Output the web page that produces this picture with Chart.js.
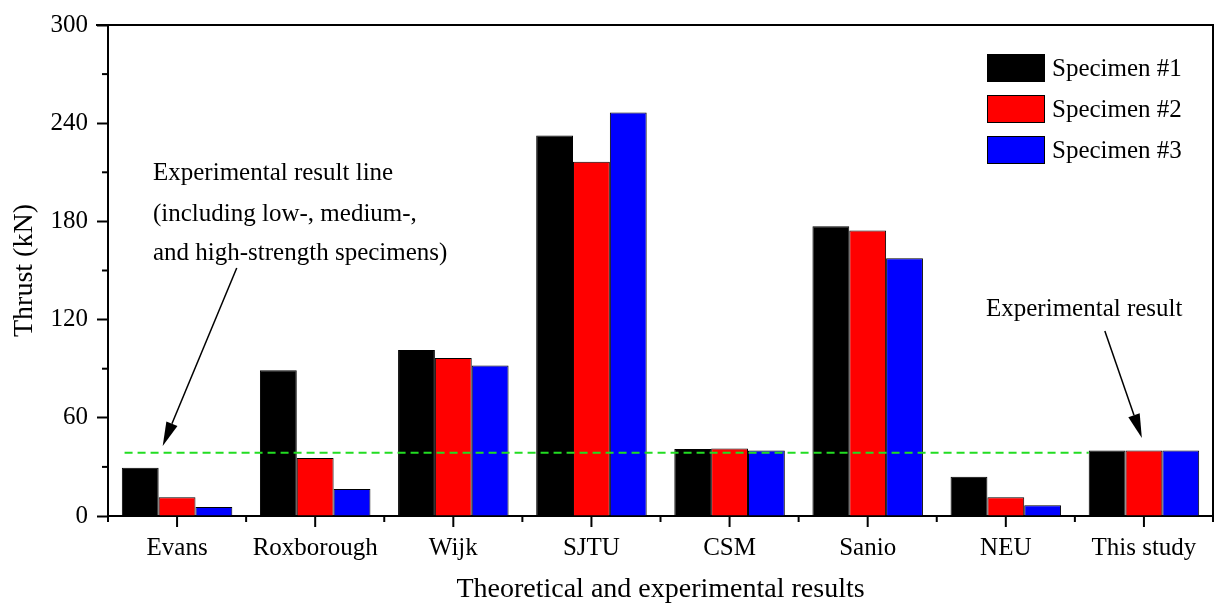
<!DOCTYPE html>
<html>
<head>
<meta charset="utf-8">
<script src="https://cdn.jsdelivr.net/npm/chart.js@4"></script>
<style>
  html, body { margin: 0; padding: 0; background: #fff; }
  #wrap { width: 1215px; height: 612px; }
</style>
</head>
<body>
<div id="wrap"><canvas id="myChart"></canvas></div>
<script>
// data
var categories = ['Evans', 'Roxborough', 'Wijk', 'SJTU', 'CSM', 'Sanio', 'NEU', 'This study'];
var seriesNames = ['Specimen #1', 'Specimen #2', 'Specimen #3'];
var specimen1 = [29.5, 89, 101.5, 232.5, 41, 177, 24, 40];
var specimen2 = [11.5, 35.5, 96.5, 216.5, 41.2, 174.5, 11.5, 40];
var specimen3 = [5.5, 16.5, 92, 246.5, 40, 157.5, 6.5, 40];
var yTicks = [0, 60, 120, 180, 240, 300];
var yMinorTicks = [30, 90, 150, 210, 270];
var expLineValue = 38.7;
var expLineFrom = -0.38, expLineTo = 6.6;   // category index units

var FONT = "'Liberation Serif', 'Times New Roman', serif";

// category index (may be fractional) -> pixel
function xAt(x, v) {
  var p0 = x.getPixelForValue(0), unit = x.getPixelForValue(1) - p0;
  return p0 + v * unit;
}

// dashed experimental line, under nothing (drawn after bars)
var expLine = {
  id: 'expLine',
  afterDatasetsDraw: function(chart) {
    var ctx = chart.ctx, x = chart.scales.x, y = chart.scales.y;
    var py = y.getPixelForValue(expLineValue);
    ctx.save();
    ctx.strokeStyle = '#22dd22';
    ctx.lineWidth = 2;
    ctx.setLineDash([8, 5]);
    ctx.beginPath();
    ctx.moveTo(xAt(x, expLineFrom), py);
    ctx.lineTo(xAt(x, expLineTo), py);
    ctx.stroke();
    ctx.restore();
  }
};

// frame, x ticks, minor ticks, legend, notes
var extras = {
  id: 'extras',
  afterDraw: function(chart) {
    var ctx = chart.ctx, a = chart.chartArea;
    var y = chart.scales.y, x = chart.scales.x;
    ctx.save();
    ctx.strokeStyle = '#000';
    ctx.lineWidth = 2;
    // top + right frame
    ctx.beginPath();
    ctx.moveTo(a.left - 12, a.top);
    ctx.lineTo(a.right, a.top);
    ctx.lineTo(a.right, a.bottom);
    ctx.stroke();
    // minor ticks y
    yMinorTicks.forEach(function(v) {
      var py = y.getPixelForValue(v);
      ctx.beginPath(); ctx.moveTo(a.left - 6, py); ctx.lineTo(a.left, py); ctx.stroke();
    });
    // major ticks x (category centres)
    categories.forEach(function(c, i) {
      var px = x.getPixelForValue(i);
      ctx.beginPath(); ctx.moveTo(px, a.bottom); ctx.lineTo(px, a.bottom + 11); ctx.stroke();
    });
    // minor ticks x (category borders)
    for (var i = 0; i <= categories.length; i++) {
      var px = xAt(x, i - 0.5);
      ctx.beginPath(); ctx.moveTo(px, a.bottom); ctx.lineTo(px, a.bottom + 6); ctx.stroke();
    }

    // legend
    ctx.font = '25px ' + FONT;
    ctx.textBaseline = 'middle';
    ctx.textAlign = 'left';
    chart.data.datasets.forEach(function(d, k) {
      var bx = 987, by = 54 + k * 41;
      ctx.fillStyle = d.backgroundColor;
      ctx.fillRect(bx, by, 58, 28);
      ctx.lineWidth = 1;
      ctx.strokeStyle = '#000';
      ctx.strokeRect(bx + 0.5, by + 0.5, 57, 27);
      ctx.fillStyle = '#000';
      ctx.fillText(d.label, 1052, by + 15);
    });

    // notes
    ctx.fillStyle = '#000';
    ctx.textBaseline = 'alphabetic';
    ctx.fillText('Experimental result line', 153, 180);
    ctx.fillText('(including low-, medium-,', 153, 221);
    ctx.fillText('and high-strength specimens)', 153, 260);
    ctx.fillText('Experimental result', 986, 316);

    arrow(ctx, xAt(x, 0.432), y.getPixelForValue(151.5),
               xAt(x, -0.104), y.getPixelForValue(42.8));
    arrow(ctx, xAt(x, 6.717), y.getPixelForValue(113),
               xAt(x, 6.985), y.getPixelForValue(47.7));
    ctx.restore();
  }
};

function arrow(ctx, x1, y1, x2, y2) {
  var ang = Math.atan2(y2 - y1, x2 - x1), len = 24, hw = 6;
  var bx = x2 - len * Math.cos(ang), by = y2 - len * Math.sin(ang);
  ctx.strokeStyle = '#000';
  ctx.lineWidth = 1.5;
  ctx.beginPath(); ctx.moveTo(x1, y1); ctx.lineTo(bx, by); ctx.stroke();
  ctx.fillStyle = '#000';
  ctx.beginPath();
  ctx.moveTo(x2, y2);
  ctx.lineTo(bx + hw * Math.sin(ang), by - hw * Math.cos(ang));
  ctx.lineTo(bx - hw * Math.sin(ang), by + hw * Math.cos(ang));
  ctx.closePath();
  ctx.fill();
}

var ctx = document.getElementById('myChart').getContext('2d');
var myChart = new Chart(ctx, {
  type: 'bar',
  data: {
    labels: categories,
    datasets: [
      { label: seriesNames[0], data: specimen1, backgroundColor: '#000000', borderColor: '#000', borderWidth: 1 },
      { label: seriesNames[1], data: specimen2, backgroundColor: '#ff0000', borderColor: '#000', borderWidth: 1 },
      { label: seriesNames[2], data: specimen3, backgroundColor: '#0000ff', borderColor: '#000', borderWidth: 1 }
    ]
  },
  options: {
    responsive: true,
    maintainAspectRatio: false,
    animation: false,
    devicePixelRatio: 1,
    layout: { padding: { top: 25, right: 2, left: 0, bottom: 0 } },
    categoryPercentage: 0.8,
    barPercentage: 1.0,
    plugins: { legend: { display: false }, tooltip: { enabled: false } },
    scales: {
      x: {
        offset: true,
        grid: { display: true, drawOnChartArea: false, drawTicks: false },
        border: { display: true, width: 2, color: '#000' },
        ticks: { color: '#000', font: { family: FONT, size: 25 }, padding: 17, maxRotation: 0, autoSkip: false },
        title: { display: true, text: 'Theoretical and experimental results', color: '#000',
                 font: { family: FONT, size: 28 }, padding: { top: 0, bottom: 6 } },
        afterFit: function(s) { s.height = 96; }
      },
      y: {
        min: 0, max: 300,
        afterBuildTicks: function(s) { s.ticks = yTicks.map(function(v) { return { value: v }; }); },
        grid: { display: true, drawOnChartArea: false, tickLength: 11, tickWidth: 2, tickColor: '#000' },
        border: { display: true, width: 2, color: '#000' },
        ticks: { color: '#000', font: { family: FONT, size: 25 }, padding: 9 },
        title: { display: true, text: 'Thrust (kN)', color: '#000',
                 font: { family: FONT, size: 28 }, padding: { top: 8, bottom: 0 } },
        afterFit: function(s) { s.width = 108; }
      }
    }
  },
  plugins: [expLine, extras]
});
</script>
</body>
</html>
